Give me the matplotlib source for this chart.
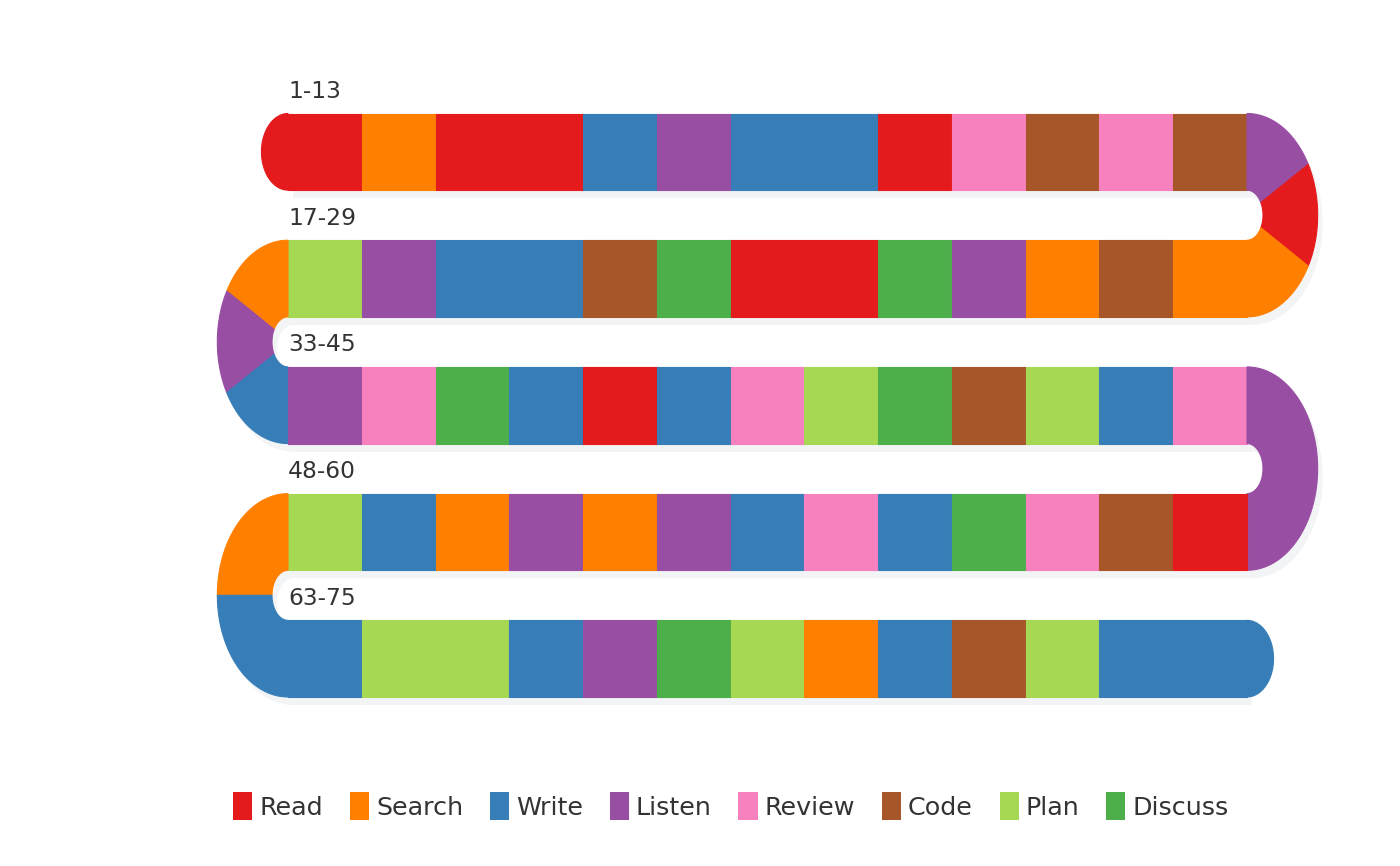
import numpy as np
import matplotlib
matplotlib.use('Agg')
import matplotlib.pyplot as plt
from matplotlib.patches import Polygon, Rectangle, Patch
from matplotlib.transforms import offset_copy

activities = ['Read', 'Search', 'Write', 'Listen', 'Review', 'Code', 'Plan', 'Discuss']
colors = ['#e41a1c', '#ff7f00', '#377eb8', '#984ea3', '#f781bf', '#a65628', '#a6d854', '#4daf4a']

# activity of each step, in order 1..75
steps = [
    # 1-13
    'Read', 'Search', 'Read', 'Read', 'Write', 'Listen', 'Write', 'Write', 'Read', 'Review', 'Code', 'Review', 'Code',
    # 14-16
    'Listen', 'Read', 'Search',
    # 17-29
    'Search', 'Code', 'Search', 'Listen', 'Discuss', 'Read', 'Read', 'Discuss', 'Code', 'Write', 'Write', 'Listen', 'Plan',
    # 30-32
    'Search', 'Listen', 'Write',
    # 33-45
    'Listen', 'Review', 'Discuss', 'Write', 'Read', 'Write', 'Review', 'Plan', 'Discuss', 'Code', 'Plan', 'Write', 'Review',
    # 46-47
    'Listen', 'Listen',
    # 48-60
    'Read', 'Code', 'Review', 'Discuss', 'Write', 'Review', 'Write', 'Listen', 'Search', 'Listen', 'Search', 'Write', 'Plan',
    # 61-62
    'Search', 'Write',
    # 63-75
    'Write', 'Plan', 'Plan', 'Write', 'Listen', 'Discuss', 'Plan', 'Search', 'Write', 'Code', 'Plan', 'Write', 'Write',
]
row_labels = ['1-13', '17-29', '33-45', '48-60', '63-75']
turn_steps = [3, 3, 2, 2]
per_row = 13

col = dict(zip(activities, colors))
shadow_col = '#f3f4f6'
text_col = '#333333'

# layout (cells are 1 wide, row pitch is 1)
h = 0.605          # row height
rx_out = 0.958     # turn outer radius (x, in cells)
rx_in = 0.217      # turn inner radius
cap_rx = 0.36
ry_out = (1 + h) / 2
ry_in = (1 - h) / 2
n_rows = len(row_labels)

fig = plt.figure(figsize=(14, 8.66), dpi=100)
ax = fig.add_axes([288 / 1400, 1 - 697 / 866, (1247 - 288) / 1400, 583.5 / 866])
ax.set_xlim(0, per_row)
ax.set_ylim(n_rows - 1 + h, 0)
ax.axis('off')

shadow_tr = offset_copy(ax.transData, fig=fig, x=5, y=-8, units='dots')
label_tr = offset_copy(ax.transData, fig=fig, x=0, y=-3, units='dots')


def turn_polys(r, n, right):
    cx = per_row if right else 0
    cy = r + ry_out
    sx = 1 if right else -1
    polys = []
    for k in range(n):
        t = np.linspace(np.pi / 2 - np.pi * k / n, np.pi / 2 - np.pi * (k + 1) / n, 40)
        outer = np.column_stack([cx + sx * rx_out * np.cos(t), cy - ry_out * np.sin(t)])
        inner = np.column_stack([cx + sx * rx_in * np.cos(t[::-1]), cy - ry_in * np.sin(t[::-1])])
        polys.append(np.vstack([outer, inner]))
    return polys


# shadows
for r in range(n_rows):
    ax.add_patch(Rectangle((0, r), per_row, h, facecolor=shadow_col, lw=0,
                           transform=shadow_tr, clip_on=False, zorder=1))
for r, n in enumerate(turn_steps):
    for p in turn_polys(r, n, right=(r % 2 == 0)):
        ax.add_patch(Polygon(p, closed=True, facecolor=shadow_col, lw=0,
                             transform=shadow_tr, clip_on=False, zorder=1))

# cells (runs of the same activity merged) and turns
i = 0
for r in range(n_rows):
    row = steps[i:i + per_row]
    if r % 2 == 1:
        row = row[::-1]
    start = 0
    for j in range(1, per_row + 1):
        if j == per_row or row[j] != row[start]:
            fc = col[row[start]]
            ax.add_patch(Rectangle((start, r), j - start, h, facecolor=fc, edgecolor=fc,
                                   lw=0.8, clip_on=False, zorder=3))
            start = j
    i += per_row
    if r < len(turn_steps):
        for p in turn_polys(r, turn_steps[r], right=(r % 2 == 0)):
            fc = col[steps[i]]
            ax.add_patch(Polygon(p, closed=True, facecolor=fc, edgecolor=fc, lw=0.8,
                                 clip_on=False, zorder=3))
            i += 1
    ax.text(0, r - ry_in, row_labels[r], ha='left', va='center', transform=label_tr,
            fontsize=16.8, color=text_col, zorder=4)

# rounded caps at start and end
t = np.linspace(np.pi / 2, 3 * np.pi / 2, 40)
cap0 = np.column_stack([cap_rx * np.cos(t), h / 2 - h / 2 * np.sin(t)])
ax.add_patch(Polygon(cap0, closed=True, facecolor=col[steps[0]], edgecolor=col[steps[0]],
                     lw=0.8, clip_on=False, zorder=2))
last_r = n_rows - 1
end_x = per_row if last_r % 2 == 0 else 0
sx = 1 if last_r % 2 == 0 else -1
t = np.linspace(-np.pi / 2, np.pi / 2, 40)
cap1 = np.column_stack([end_x + sx * cap_rx * np.cos(t), last_r + h / 2 - h / 2 * np.sin(t)])
ax.add_patch(Polygon(cap1, closed=True, facecolor=col[steps[-1]], edgecolor=col[steps[-1]],
                     lw=0.8, clip_on=False, zorder=2))

handles = [Patch(facecolor=c, edgecolor='none', label=a) for a, c in zip(activities, colors)]
leg = fig.legend(handles=handles, loc='center', bbox_to_anchor=(731 / 1400, 1 - 806 / 866),
                 ncol=len(activities), frameon=False, fontsize=18.3,
                 handlelength=0.75, handleheight=1.26, handletextpad=0.28,
                 columnspacing=1.05, borderaxespad=0)
for txt in leg.get_texts():
    txt.set_color(text_col)

fig.savefig('out.png', dpi=100, facecolor='white')
